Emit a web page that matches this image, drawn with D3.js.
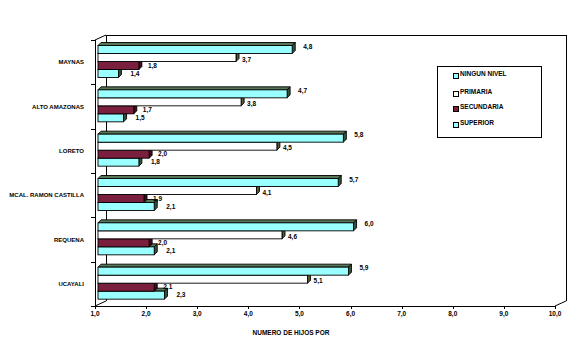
<!DOCTYPE html>
<html><head><meta charset="utf-8">
<script src="https://cdn.jsdelivr.net/npm/d3@7"></script>
<style>
body{margin:0;background:#fff;}
text{font-family:"Liberation Sans",Arial,sans-serif;font-weight:bold;fill:#000;}
</style></head>
<body><svg id="c" width="582" height="358"></svg>
<script>
const categories = ["MAYNAS","ALTO AMAZONAS","LORETO","MCAL. RAMON CASTILLA","REQUENA","UCAYALI"];
const seriesNames = ["NINGUN NIVEL","PRIMARIA","SECUNDARIA","SUPERIOR"];
const ningunNivel = [4.8,4.7,5.8,5.7,6.0,5.9];
const primaria   = [3.7,3.8,4.5,4.1,4.6,5.1];
const secundaria = [1.8,1.7,2.0,1.9,2.0,2.1];
const superior   = [1.4,1.5,1.8,2.1,2.1,2.3];
const xTicks = [1,2,3,4,5,6,7,8,9,10];
const xTitle = "NUMERO DE HIJOS POR";

const series = [ningunNivel, primaria, secundaria, superior];
const faceCol = ["#99ffff","#ffffff","#7b1f3f","#99ffff"];
const topCol  = ["#577757","#77775a","#4f1022","#577757"];
const sideCol = ["#34543a","#58583a","#450a1c","#34543a"];
const fmt = v => v.toFixed(1).replace(".", ",");

const svg = d3.select("#c");
const DX = 11, DY = 5;          // wall depth
const bdx = 3, bdy = 3;         // bar depth
const x = d3.scaleLinear().domain([1,10]).range([95,555]);
const xb = d3.scaleLinear().domain([1,10]).range([98,558]);
const y = d3.scaleBand().domain(categories).range([40,306]).paddingInner(0).paddingOuter(0);
const yi = d3.scaleBand().domain(d3.range(4)).range([5.5,37.5]);

const L = (x1,y1,x2,y2) => svg.append("line").attr("x1",x1).attr("y1",y1).attr("x2",x2).attr("y2",y2).attr("stroke","#000").attr("stroke-width",1);

// back wall / frame
const x0 = x(1), x1 = x(10), yTop = y.range()[0], yBot = y.range()[1];
L(x0+DX, yTop-DY+0.5, x1+DX, yTop-DY+0.5);
L(x1+DX+0.5, yTop-DY, x1+DX+0.5, yBot-DY);
L(x0+DX+0.5, yTop-DY, x0+DX+0.5, yBot-DY);
L(x0, yTop, x0+DX, yTop-DY);
L(x1, yBot, x1+DX, yBot-DY);
L(x0, yBot, x0+DX, yBot-DY);

// bars (draw lower bars first)
const groups = svg.append("g");
categories.forEach((c, ci) => {
  for (let s = 3; s >= 0; s--) {
    const v = series[s][ci];
    const t = y(c) + yi(s), b = t + yi.bandwidth();
    const a = xb(1), e = xb(v);
    const g = groups.append("g");
    g.append("polygon").attr("points", [[a,t],[a+bdx,t-bdy],[e+bdx,t-bdy],[e,t]].join(" "))
      .attr("fill", topCol[s]).attr("stroke","#000").attr("stroke-width",0.9);
    g.append("polygon").attr("points", [[e,t],[e+bdx,t-bdy],[e+bdx,b-bdy],[e,b]].join(" "))
      .attr("fill", sideCol[s]).attr("stroke","#000").attr("stroke-width",0.9);
    g.append("rect").attr("x",a).attr("y",t).attr("width",e-a).attr("height",b-t)
      .attr("fill", faceCol[s]).attr("stroke","#000").attr("stroke-width",0.9);
  }
});

// front axes
L(x0+0.5, yTop, x0+0.5, yBot+1);
L(x0-4, yBot+0.5, x1, yBot+0.5);
categories.concat(["_end"]).forEach((c,i) => {
  const yy = i < categories.length ? y(c) : yBot;
  L(x0-4, Math.round(yy)+0.5, x0, Math.round(yy)+0.5);
});
xTicks.forEach(t => L(Math.round(x(t))+0.5, yBot, Math.round(x(t))+0.5, yBot+3));

// value labels
const lgap = [8, 3, 6, 9];
categories.forEach((c, ci) => {
  series.forEach((arr, s) => {
    const v = arr[ci];
    const t = y(c) + yi(s);
    const cy = s === 0 ? t + 1 : (s === 1 ? t + yi.bandwidth()/2 + 2 : t + yi.bandwidth()/2);
    svg.append("text").attr("x", xb(v) + bdx + lgap[s]).attr("y", cy).attr("dy","0.35em")
      .attr("font-size", 6.5).text(fmt(v));
  });
});

// category labels
categories.forEach(c => {
  svg.append("text").attr("x", 84).attr("y", y(c) + y.bandwidth()/2).attr("dy","0.35em")
    .attr("text-anchor","end").attr("font-size",6).text(c);
});

// x tick labels
xTicks.forEach(t => {
  svg.append("text").attr("x", x(t)).attr("y", 316).attr("text-anchor","middle")
    .attr("font-size",6.5).text(fmt(t));
});
svg.append("text").attr("x", 291).attr("y", 335).attr("text-anchor","middle")
  .attr("font-size",6.5).text(xTitle);

// legend
const lg = svg.append("g");
lg.append("rect").attr("x",437.5).attr("y",66.5).attr("width",104).attr("height",71)
  .attr("fill","#fff").attr("stroke","#000").attr("stroke-width",1);
const ly = [73, 91, 106, 122];
seriesNames.forEach((n,i) => {
  lg.append("rect").attr("x",453.5).attr("y",ly[i]+0.5).attr("width",5).attr("height",5)
    .attr("fill", faceCol[i]).attr("stroke","#000").attr("stroke-width",1);
  lg.append("text").attr("x",460).attr("y",ly[i]+3).attr("font-size",6.5).text(n);
});
</script></body></html>
